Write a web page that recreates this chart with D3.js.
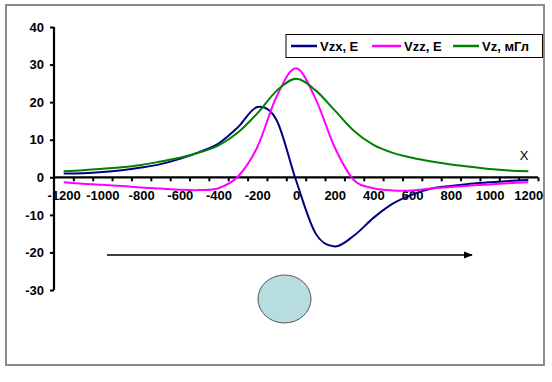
<!DOCTYPE html>
<html>
<head>
<meta charset="utf-8">
<script src="https://cdn.jsdelivr.net/npm/d3@7/dist/d3.min.js"></script>
<style>
  html, body { margin: 0; padding: 0; background: #fff; }
  svg { display: block; }
  text { font-family: "Liberation Sans", Arial, sans-serif; }
</style>
</head>
<body>
<svg id="chart" width="552" height="382"></svg>
<script>
// ---- data ----
const xCategories = [-1200,-1100,-1000,-900,-800,-700,-600,-500,-400,-300,-200,-100,0,100,200,300,400,500,600,700,800,900,1000,1100,1200];
const vzx = [1.0,1.1,1.4,1.9,2.6,3.5,4.9,6.7,9.0,13.3,18.7,15.2,-0.8,-14.8,-18.4,-15.5,-10.8,-7.0,-4.6,-3.0,-2.3,-1.7,-1.3,-1.0,-0.7];
const vzz = [-1.3,-1.7,-2.0,-2.3,-2.7,-3.0,-3.3,-3.4,-2.9,0.2,8.0,21.5,29.0,21.0,8.0,-0.8,-2.9,-3.5,-3.5,-3.0,-2.6,-2.2,-1.9,-1.6,-1.3];
const vz  = [1.6,1.9,2.3,2.7,3.3,4.2,5.2,6.6,8.5,11.9,17.0,23.0,26.2,23.2,17.8,12.3,8.6,6.5,5.2,4.2,3.4,2.8,2.2,1.8,1.6];
const seriesNames = ["Vzx, E", "Vzz, E", "Vz, мГл"];
const seriesColors = ["#000080", "#ff00ff", "#008000"];
const xLabelTicks = [-1200,-1000,-800,-600,-400,-200,0,200,400,600,800,1000,1200];
const yTicks = [-30,-20,-10,0,10,20,30,40];

const series = [vzx, vzz, vz];
const fmt = d => String(d);

const svg = d3.select("#chart");

// outer frame
svg.append("rect").attr("x", 6).attr("y", 5).attr("width", 538).attr("height", 360)
  .attr("fill", "#fff").attr("stroke", "#8c8c8c").attr("stroke-width", 2);

const x = d3.scaleLinear().domain([-1250, 1250]).range([54, 538]);
const y = d3.scaleLinear().domain([-30, 40]).range([290, 27]);

// y axis
const yAxis = svg.append("g").attr("transform", "translate(54,0)")
  .call(d3.axisLeft(y).tickValues(yTicks).tickSize(4).tickPadding(6).tickFormat(fmt));
yAxis.select(".domain").attr("stroke", "#000").attr("stroke-width", 2.2).attr("d", `M0,${y(-30)}V${y(40)}`);
yAxis.selectAll(".tick line").attr("stroke", "#000").attr("stroke-width", 2);
yAxis.selectAll(".tick text").attr("font-size", 13).attr("font-weight", "bold").attr("fill", "#000")
  .attr("font-family", "Liberation Sans, Arial, sans-serif");

// x axis: tick marks between categories
const tickMarks = xCategories.map(c => c + 50);
const xAxis = svg.append("g").attr("transform", `translate(0,${y(0)})`)
  .call(d3.axisBottom(x).tickValues(tickMarks).tickSize(4).tickFormat(""));
xAxis.select(".domain").attr("stroke", "#000").attr("stroke-width", 2.2).attr("d", `M${x(-1250)},0H${x(1250)}`);
xAxis.selectAll(".tick line").attr("stroke", "#000").attr("stroke-width", 2);

// x labels
const xLab = svg.append("g").attr("transform", `translate(0,${y(0)})`)
  .call(d3.axisBottom(x).tickValues(xLabelTicks).tickSize(0).tickPadding(13).tickFormat(fmt));
xLab.select(".domain").remove();
xLab.selectAll(".tick text").attr("font-size", 13).attr("font-weight", "bold").attr("fill", "#000")
  .attr("font-family", "Liberation Sans, Arial, sans-serif");

// lines
const line = d3.line().x((d, i) => x(xCategories[i])).y(d => y(d)).curve(d3.curveCardinal.tension(0));
series.forEach((s, k) => {
  svg.append("path").datum(s).attr("d", line).attr("fill", "none")
    .attr("stroke", seriesColors[k]).attr("stroke-width", 2);
});

// X label
svg.append("text").attr("x", 524).attr("y", 160).attr("text-anchor", "middle")
  .attr("font-size", 13).text("X");

// arrow
svg.append("defs").append("marker").attr("id", "arr").attr("viewBox", "0 0 10 10")
  .attr("refX", 9).attr("refY", 5).attr("markerWidth", 6).attr("markerHeight", 6).attr("orient", "auto")
  .append("path").attr("d", "M0,1L10,5L0,9Z").attr("fill", "#000");
svg.append("line").attr("x1", 107).attr("x2", 472).attr("y1", 255).attr("y2", 255)
  .attr("stroke", "#000").attr("stroke-width", 1.5).attr("marker-end", "url(#arr)");

// sphere
svg.append("ellipse").attr("cx", 284.5).attr("cy", 299).attr("rx", 26.5).attr("ry", 24)
  .attr("fill", "#b7dde0").attr("stroke", "#555").attr("stroke-width", 1);

// legend
const lg = svg.append("g");
lg.append("rect").attr("x", 286).attr("y", 34.5).attr("width", 256.5).attr("height", 23)
  .attr("fill", "#fff").attr("stroke", "#000").attr("stroke-width", 1);
const legItems = [
  {x1: 291, x2: 317, tx: 320},
  {x1: 372, x2: 401, tx: 404},
  {x1: 453, x2: 479, tx: 482}
];
legItems.forEach((it, k) => {
  lg.append("line").attr("x1", it.x1).attr("x2", it.x2).attr("y1", 46).attr("y2", 46)
    .attr("stroke", seriesColors[k]).attr("stroke-width", 2.5);
  lg.append("text").attr("x", it.tx).attr("y", 50.5).attr("font-size", 13).attr("font-weight", "bold")
    .text(seriesNames[k]);
});
</script>
</body>
</html>
